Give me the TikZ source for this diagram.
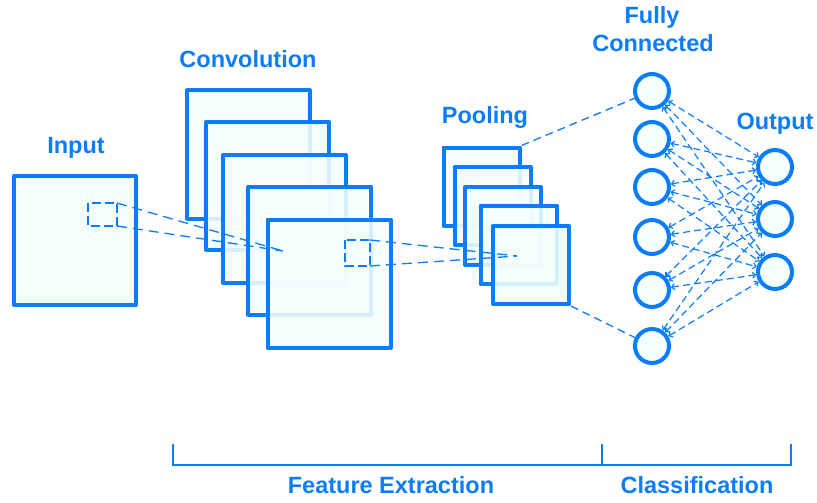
\documentclass[tikz,border=0pt]{standalone}
\usepackage{fontspec}
\setmainfont{Liberation Sans}
\usetikzlibrary{arrows.meta}
\definecolor{cnnblue}{RGB}{12,125,250}
\definecolor{cnnfill}{RGB}{244,254,252}
\tikzset{
  layer/.style={draw=cnnblue, line width=4pt, fill=cnnfill, fill opacity=0.88,
    draw opacity=1, rectangle, inner sep=0pt, line join=round},
  convmap/.style={layer, minimum width=123pt, minimum height=128pt},
  poolmap/.style={layer, minimum width=76pt, minimum height=78pt},
  neuron/.style={draw=cnnblue, line width=4pt, fill=cnnfill, circle,
    inner sep=0pt, minimum size=34pt},
  lbl/.style={text=cnnblue, font=\bfseries\fontsize{23.5}{26}\selectfont, anchor=base, inner sep=0pt},
  window/.style={draw=cnnblue, line width=1.3pt, dash pattern=on 9pt off 4pt},
  link/.style={draw=cnnblue, line width=1.3pt, dash pattern=on 10pt off 6pt},
  fclink/.style={draw=cnnblue, line width=1.2pt, dash pattern=on 7pt off 4pt,
    {Straight Barb[length=3pt,width=6pt]}-{Straight Barb[length=3pt,width=6pt]}},
  bracket/.style={draw=cnnblue, line width=1.5pt}
}
\begin{document}
\begin{tikzpicture}[x=1pt,y=-1pt]
\useasboundingbox (0,0) rectangle (817,503);

% input image
\node[layer, minimum width=122pt, minimum height=129pt] (in) at (75,240.5) {};
\draw[window] (88,203) rectangle (117,226);
\coordinate (inA) at (117,203);
\coordinate (inB) at (117,226);

% convolution feature maps
\node[convmap] (c1) at (248.5,154.5) {};
\node[convmap] (c2) at (267.5,186) {};
\node[convmap] (c3) at (284.5,219) {};
\node[convmap] (c4) at (309.5,250.5) {};
\node[convmap] (c5) at (329,283.5) {};
\coordinate (cT) at (283,251);
\draw[window] (345,240) rectangle (370,266);
\coordinate (cA) at (370,240);
\coordinate (cB) at (370,266);
\draw[link] (inA) -- (cT);
\draw[link] (inB) -- (cT);

% pooled maps
\node[poolmap] (p1) at (481.5,186.5) {};
\node[poolmap] (p2) at (492.5,206) {};
\node[poolmap] (p3) at (503,226) {};
\node[poolmap] (p4) at (518.5,244.5) {};
\node[poolmap] (p5) at (531,265) {};
\coordinate (pT) at (517,256);
\draw[link] (cA) -- (pT);
\draw[link] (cB) -- (pT);

% fully connected layer
\node[neuron] (f1) at (652,91) {};
\node[neuron] (f2) at (652,139) {};
\node[neuron] (f3) at (652,187) {};
\node[neuron] (f4) at (652,237) {};
\node[neuron] (f5) at (652,290) {};
\node[neuron] (f6) at (652,346) {};

% output layer
\node[neuron] (o1) at (775,167) {};
\node[neuron] (o2) at (775,219) {};
\node[neuron] (o3) at (775,272) {};

\foreach \f in {1,...,6}
  \foreach \o in {1,2,3}
    \draw[fclink] (f\f) -- (o\o);

\draw[link, dash pattern=on 8pt off 5pt] (p1.north east) -- (f1);
\draw[link, dash pattern=on 8pt off 5pt] (p5.south east) -- (f6);

% labels
\node[lbl] (tIn) at (76,153) {Input};
\node[lbl] (tConv) at (248,67) {Convolution};
\node[lbl] (tPool) at (485,123) {Pooling};
\node[lbl] (tFully) at (652,24) {Fully};
\node[lbl] (tConn) at (653,52) {Connected};
\node[lbl] (tOut) at (775,129) {Output};

% stage brackets
\coordinate (bL) at (173,444);
\coordinate (bM) at (602,444);
\coordinate (bR) at (791,444);
\draw[bracket] (bL) |- (bR |- 0,465) -- (bR);
\draw[bracket] (bM) -- (bM |- 0,465);
\node[lbl] (tFeat) at (391,493) {Feature Extraction};
\node[lbl] (tCls) at (697,493) {Classification};
\end{tikzpicture}
\end{document}
